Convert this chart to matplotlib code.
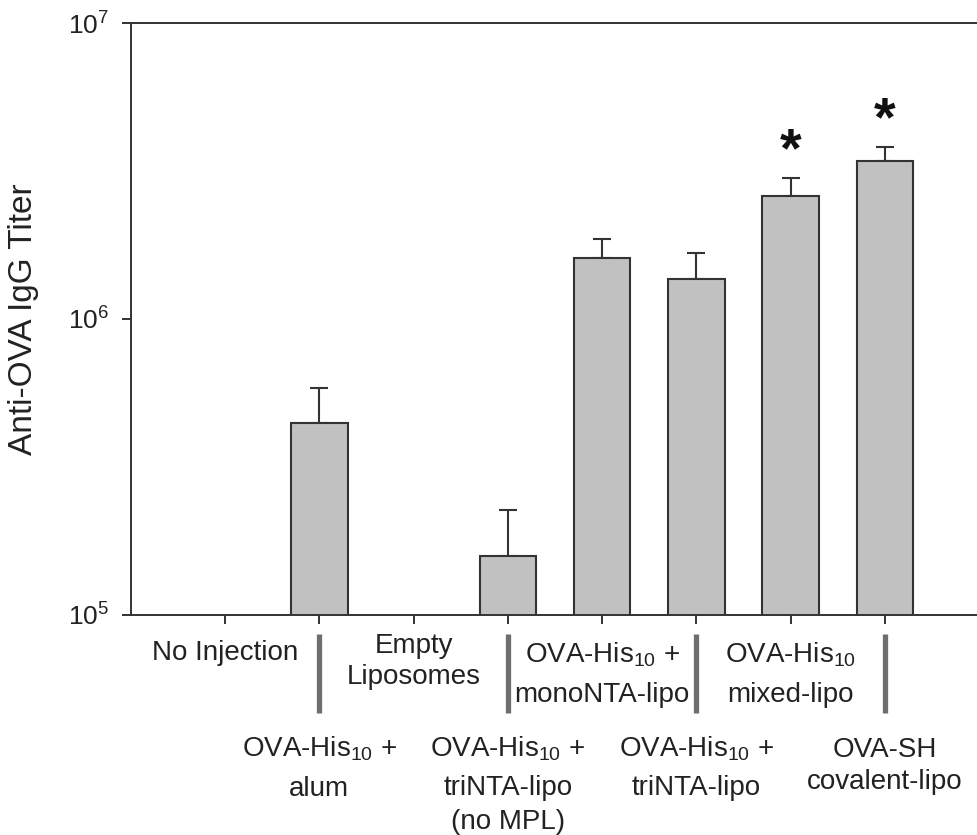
import numpy as np
import matplotlib
matplotlib.use("Agg")
import matplotlib.pyplot as plt
from matplotlib.ticker import NullLocator, FixedLocator

plt.rcParams["font.family"] = ["Liberation Sans", "DejaVu Sans"]
plt.rcParams["mathtext.fontset"] = "custom"
plt.rcParams["mathtext.rm"] = "Liberation Sans"
plt.rcParams["mathtext.it"] = "Liberation Sans:italic"
plt.rcParams["mathtext.bf"] = "Liberation Sans:bold"
plt.rcParams["mathtext.default"] = "regular"

# Groups (in plotting order), titers and upper SEM
groups = [
    "No Injection",
    "OVA-His10 + alum",
    "Empty Liposomes",
    "OVA-His10 + triNTA-lipo (no MPL)",
    "OVA-His10 + monoNTA-lipo",
    "OVA-His10 + triNTA-lipo",
    "OVA-His10 mixed-lipo",
    "OVA-SH covalent-lipo",
]
titer = [np.nan, 4.44e5, np.nan, 1.58e5, 1.61e6, 1.36e6, 2.60e6, 3.41e6]
sem_upper = [np.nan, 1.41e5, np.nan, 0.68e5, 0.26e6, 0.31e6, 0.40e6, 0.41e6]
significant = [False, False, False, False, False, False, True, True]

# Two-row category labels, one list of lines per group
label_lines = [
    ["No Injection"],
    [r"OVA-His$_{10}$ +", "alum"],
    ["Empty", "Liposomes"],
    [r"OVA-His$_{10}$ +", "triNTA-lipo", "(no MPL)"],
    [r"OVA-His$_{10}$ +", "monoNTA-lipo"],
    [r"OVA-His$_{10}$ +", "triNTA-lipo"],
    [r"OVA-His$_{10}$", "mixed-lipo"],
    ["OVA-SH", "covalent-lipo"],
]
# vertical centre of each label line, in pixels from the top of the figure
label_line_y = [
    [653],
    [749, 789],
    [646, 677],
    [749, 788, 822],
    [655, 695],
    [749, 788],
    [655, 695],
    [750, 782],
]

W, H = 977, 835
fig = plt.figure(figsize=(W / 100, H / 100), dpi=100)
ax_left, ax_bottom, ax_top = 130.7, 615, 23
ax = fig.add_axes([ax_left / W, (H - ax_bottom) / H, 1 - ax_left / W,
                   (ax_bottom - ax_top) / H])

edge = "#333333"
fill = "#c0c1c0"
text_col = "#222222"
x = np.arange(len(groups))
vals = np.array(titer, dtype=float)
errs = np.array(sem_upper, dtype=float)
have = np.isfinite(vals)

ax.bar(x[have], vals[have], width=0.6, color=fill, edgecolor=edge,
       linewidth=1.5, zorder=2)
ax.errorbar(x[have], vals[have],
            yerr=[np.zeros(have.sum()), errs[have]],
            fmt="none", ecolor=edge, elinewidth=1.5, capsize=6.5,
            capthick=1.5, zorder=1)

for xi, v, e, s in zip(x, vals, errs, significant):
    if s:
        ax.annotate("*", (xi, v + e), xytext=(0, 8.5), textcoords="offset points",
                    ha="center", va="baseline", fontsize=40,
                    fontweight="bold", color="#111111")

ax.set_yscale("log")
ax.set_ylim(1e5, 1e7)
ax.yaxis.set_major_locator(FixedLocator([1e5, 1e6, 1e7]))
ax.yaxis.set_minor_locator(NullLocator())
ax.set_xlim(-1.0, 7.975)
ax.set_xticks(x)
ax.set_xticklabels([])

for side in ["left", "bottom", "top"]:
    ax.spines[side].set_linewidth(1.4)
    ax.spines[side].set_color(edge)
ax.spines["right"].set_visible(False)
ax.tick_params(axis="both", which="major", direction="out", length=6.5,
               width=1.4, color=edge, labelsize=19, labelcolor=text_col)
ax.tick_params(axis="y", pad=9)

ax.set_ylabel("Anti-OVA IgG Titer", fontsize=24, color=text_col)
ax.yaxis.set_label_coords((39 - ax_left) / (W - ax_left), (ax_bottom - 319) / (ax_bottom - ax_top))

# Category labels placed below the axis
trans = ax.get_xaxis_transform()
ax_h = ax_bottom - ax_top
for xi, lines, ys in zip(x, label_lines, label_line_y):
    for txt, ypx in zip(lines, ys):
        ax.text(xi, (ax_bottom - ypx) / ax_h, txt, transform=trans,
                ha="center", va="center", fontsize=20, color=text_col,
                clip_on=False)

# Separator bars under alternate groups
for xi in x[1::2]:
    ax.plot([xi, xi], [(ax_bottom - 634) / ax_h, (ax_bottom - 713) / ax_h],
            transform=trans, color="#6e6e6e", linewidth=3.8,
            solid_capstyle="butt", clip_on=False)

fig.savefig("out.png", dpi=100)
